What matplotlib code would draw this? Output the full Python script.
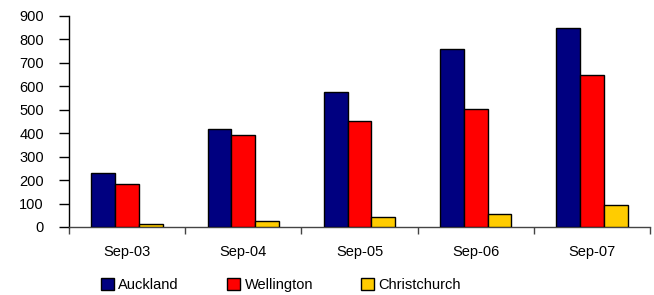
import numpy as np
import matplotlib
matplotlib.use("Agg")
import matplotlib.pyplot as plt

# data
periodos = ['Sep-03', 'Sep-04', 'Sep-05', 'Sep-06', 'Sep-07']
auckland = [231, 416, 577, 758, 849]
wellington = [185, 391, 453, 502, 647]
christchurch = [12, 25, 41, 54, 93]

series = ['Auckland', 'Wellington', 'Christchurch']
cores = ['#000080', '#FF0000', '#FFCC00']

plt.rcParams['font.family'] = ['Liberation Sans', 'DejaVu Sans']

fig = plt.figure(figsize=(6.54, 2.95), dpi=100)
ax = fig.add_axes([69 / 654, 1 - 227 / 295, (650 - 69) / 654, (227 - 15.7) / 295])

x = np.arange(len(periodos))
largura = 0.205
valores = [auckland, wellington, christchurch]
for i, (nome, v, c) in enumerate(zip(series, valores, cores)):
    ax.bar(x + (i - 1) * largura, v, largura, color=c, edgecolor='black',
           linewidth=1, label=nome, zorder=3)

# eixos
ax.set_xlim(-0.5, len(periodos) - 0.5)
ax.set_ylim(0, 900)
ax.set_yticks(range(0, 901, 100))
ax.tick_params(axis='y', direction='out', length=7, width=1, pad=11, labelsize=10.5)
ax.set_xticks(np.arange(len(periodos) + 1) - 0.5, minor=False)
ax.set_xticklabels([''] * (len(periodos) + 1))
ax.tick_params(axis='x', which='major', direction='out', length=5, width=1, color='#444444')
ax.set_xticks(x, minor=True)
ax.set_xticklabels(periodos, minor=True)
ax.tick_params(axis='x', which='minor', length=0, pad=13, labelsize=10.5)

ax.spines['top'].set_visible(False)
ax.spines['right'].set_visible(False)
ax.spines['left'].set_linewidth(1)
ax.spines['bottom'].set_linewidth(1)
ax.spines['bottom'].set_color('#444444')

# legenda embaixo
fig.legend(loc='center', bbox_to_anchor=(281 / 654, 1 - 285 / 295), ncol=3,
           frameon=False, fontsize=10.5, handlelength=0.9, handleheight=0.9,
           handletextpad=0.3, columnspacing=3.3)

fig.savefig('out.png', dpi=100)
